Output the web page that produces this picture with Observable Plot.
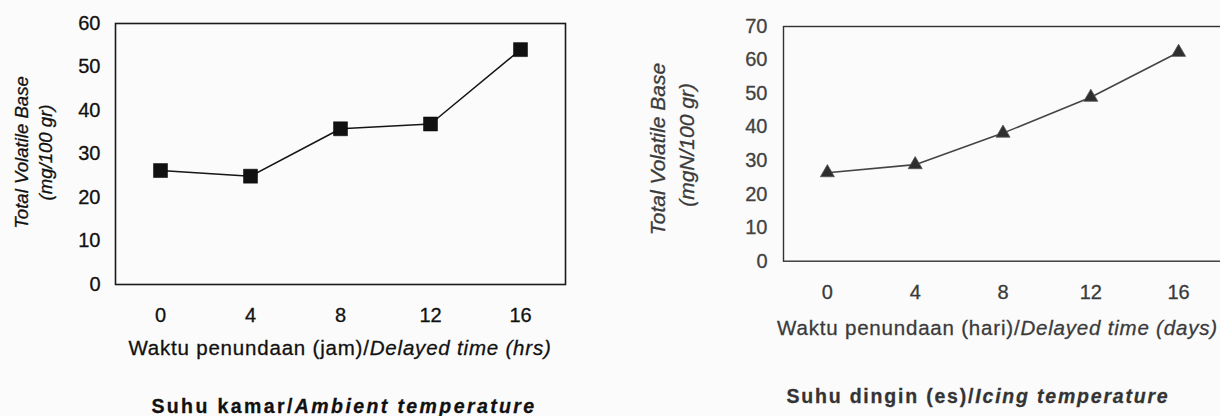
<!DOCTYPE html>
<html>
<head>
<meta charset="utf-8">
<script src="https://cdn.jsdelivr.net/npm/d3@7"></script>
<script src="https://cdn.jsdelivr.net/npm/@observablehq/plot@0.6"></script>
<style>
  html, body { margin: 0; padding: 0; background: #fbfbfb; }
  #wrap { position: relative; width: 1220px; height: 416px; overflow: hidden; background: #fbfbfb; }
  #wrap svg { position: absolute; top: 0; overflow: visible; }
  #wrap svg text { stroke: currentColor; stroke-width: 0.3px; }
</style>
</head>
<body>
<div id="wrap"></div>
<script>
// ---- data ----
const timeAmbient = [0, 4, 8, 12, 16];            // hours
const tvbAmbient  = [26.2, 24.9, 35.8, 36.9, 54.0]; // mg/100 gr
const timeIcing   = [0, 4, 8, 12, 16];            // days
const tvbIcing    = [26.4, 28.8, 38.2, 48.9, 62.3]; // mgN/100 gr
const xTicks      = [0, 4, 8, 12, 16];
const yTicksAmbient = [0, 10, 20, 30, 40, 50, 60];
const yTicksIcing   = [0, 10, 20, 30, 40, 50, 60, 70];

const FONT = "'Liberation Sans', Arial, Helvetica, sans-serif";
const wrap = document.getElementById("wrap");

const ambient = timeAmbient.map((t, i) => ({t, v: tvbAmbient[i]}));
const icing = timeIcing.map((t, i) => ({t, v: tvbIcing[i]}));

// ---- left chart: ambient temperature ----
const left = Plot.plot({
  width: 610, height: 416,
  marginLeft: 115, marginRight: 45, marginTop: 23, marginBottom: 132,
  style: {fontFamily: FONT, fontSize: "20px", color: "#111", background: "transparent"},
  x: {domain: [-2, 18], label: null},
  y: {domain: [0, 60], label: null},
  marks: [
    Plot.frame({stroke: "#1a1a1a", strokeWidth: 1.6}),
    Plot.axisX({ticks: xTicks, tickSize: 0, tickPadding: 23.5, label: null, fill: "#111"}),
    Plot.axisY({ticks: yTicksAmbient, tickSize: 0, tickPadding: 15, label: null, fill: "#111"}),
    Plot.line(ambient, {x: "t", y: "v", stroke: "#151515", strokeWidth: 1.5}),
    Plot.dot(ambient, {x: "t", y: "v", symbol: "square", r: 7.9, fill: "#111", stroke: "#000", strokeWidth: 0.5})
  ]
});
left.style.left = "0px";
wrap.appendChild(left);

// ---- right chart: icing temperature ----
const right = Plot.plot({
  width: 612, height: 416,
  marginLeft: 173, marginRight: 0, marginTop: 26, marginBottom: 155.3,
  style: {fontFamily: FONT, fontSize: "20px", color: "#3a3a3a", background: "transparent"},
  x: {domain: [-2, 18], label: null},
  y: {domain: [0, 70], label: null},
  marks: [
    Plot.frame({stroke: "#333", strokeWidth: 1.4}),
    Plot.axisX({ticks: xTicks, tickSize: 0, tickPadding: 23.5, label: null, fill: "#3a3a3a"}),
    Plot.axisY({ticks: yTicksIcing, tickSize: 0, tickPadding: 16, label: null, fill: "#444"}),
    Plot.line(icing, {x: "t", y: "v", stroke: "#444", strokeWidth: 1.6}),
    Plot.dot(icing, {x: "t", y: "v", symbol: "triangle", r: 5.2, fill: "#2e2e2e", stroke: "#555", strokeWidth: 0.8})
  ]
});
right.style.left = "610px";
wrap.appendChild(right);

// ---- axis titles and captions (real text appended to the SVGs) ----
function yTitle(svg, xb1, yc1, xb2, yc2, size, color, line2) {
  const s = d3.select(svg);
  s.append("text")
    .attr("transform", `translate(${xb1},${yc1}) rotate(-90)`)
    .attr("text-anchor", "middle").attr("font-style", "italic")
    .attr("font-size", size).attr("fill", color).attr("font-family", FONT)
    .text("Total Volatile Base");
  s.append("text")
    .attr("transform", `translate(${xb2},${yc2}) rotate(-90)`)
    .attr("text-anchor", "middle").attr("font-style", "italic")
    .attr("font-size", size).attr("fill", color).attr("font-family", FONT)
    .text(line2);
}
function xTitle(svg, xc, yb, plain, ital, color) {
  const t = d3.select(svg).append("text")
    .attr("x", xc).attr("y", yb).attr("text-anchor", "middle")
    .attr("font-size", 20.5).attr("letter-spacing", 0.8)
    .attr("fill", color).attr("font-family", FONT);
  t.append("tspan").text(plain);
  t.append("tspan").attr("font-style", "italic").text(ital);
}
function caption(svg, xc, yb, plain, ital, color, size, ls) {
  const t = d3.select(svg).append("text")
    .attr("x", xc).attr("y", yb).attr("text-anchor", "middle")
    .attr("font-size", size).attr("font-weight", "bold").attr("letter-spacing", ls)
    .attr("fill", color).attr("font-family", FONT);
  t.append("tspan").text(plain);
  t.append("tspan").attr("font-style", "italic").text(ital);
}

// left (svg origin at page x=0)
yTitle(left, 28, 152.5, 51.5, 152.5, 18.6, "#111", "(mg/100 gr)");
xTitle(left, 340, 355, "Waktu penundaan (jam)/", "Delayed time (hrs)", "#111");
caption(left, 344, 413, "Suhu kamar/", "Ambient temperature", "#111", 19.5, 2.4);

// right (svg origin at page x=610)
yTitle(right, 665 - 610, 149, 693.5 - 610, 145, 21, "#3a3a3a", "(mgN/100 gr)");
xTitle(right, 997.5 - 610, 335, "Waktu penundaan (hari)/", "Delayed time (days)", "#3a3a3a");
caption(right, 978 - 610, 403, "Suhu dingin (es)/", "Icing temperature", "#333", 19.5, 1.8);
</script>
</body>
</html>
